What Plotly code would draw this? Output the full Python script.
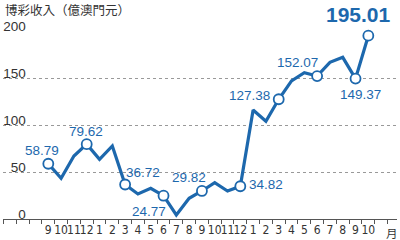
import plotly.graph_objects as go

months = ["9", "10", "11", "12", "1", "2", "3", "4", "5", "6", "7", "8", "9",
          "10", "11", "12", "1", "2", "3", "4", "5", "6", "7", "8", "9", "10"]
revenue = [58.79, 43.3, 67.0, 79.62, 63.5, 77.7, 36.72, 26.6, 32.6, 24.77,
           4.3, 22.0, 29.82, 38.6, 29.8, 34.82, 116.0, 104.0, 127.38, 147.0,
           155.6, 152.07, 166.7, 172.0, 149.37, 195.01]
marked = [0, 3, 6, 9, 12, 15, 18, 21, 24, 25]
label_pos = {0: (-6, 13), 3: (-1, 13), 6: (18, 12), 9: (-15, -16),
             12: (-13, 13), 15: (26, 2), 18: (-29, 4), 21: (-20, 14),
             24: (5, -16), 25: (-10, 21)}
y_ticks = [0, 50, 100, 150, 200]
unit_title = "博彩收入（億澳門元）"
month_unit = "月"

BLUE = "#1d68ad"
idx = list(range(len(months)))

fig = go.Figure()
fig.add_trace(go.Scatter(
    x=idx, y=revenue, mode="lines",
    line=dict(color=BLUE, width=3.2), hoverinfo="skip", cliponaxis=False))
fig.add_trace(go.Scatter(
    x=[idx[i] for i in marked], y=[revenue[i] for i in marked], mode="markers",
    marker=dict(size=10, color="white", line=dict(color=BLUE, width=1.8)),
    hoverinfo="skip", cliponaxis=False))
fig.add_trace(go.Scatter(x=[0], y=[0], yaxis="y2", mode="markers",
                         marker=dict(opacity=0), hoverinfo="skip", showlegend=False))

for i in marked:
    dx, dy = label_pos[i]
    last = i == len(months) - 1
    txt = f"{revenue[i]:.2f}"
    fig.add_annotation(
        x=idx[i], y=revenue[i], text=f"<b>{txt}</b>" if last else txt, showarrow=False,
        xshift=dx, yshift=dy,
        font=dict(family="Liberation Sans, Arial, sans-serif",
                  size=21 if last else 13.5, color=BLUE),
        xanchor="center", yanchor="middle")

fig.add_annotation(x=0, y=1, xref="paper", yref="paper", xanchor="left", yanchor="middle",
                   yshift=22, text=unit_title, showarrow=False,
                   font=dict(family="Noto Sans CJK TC, sans-serif", size=12.5, color="#333333"))
fig.add_annotation(x=0.988, y=0, xref="paper", yref="paper", xanchor="center", yanchor="top",
                   yshift=-4, text=month_unit, showarrow=False,
                   font=dict(family="Noto Sans CJK TC, sans-serif", size=11.5, color="#333333"))

fig.update_layout(
    width=400, height=240,
    margin=dict(l=3, r=3, t=31, b=21),
    paper_bgcolor="white", plot_bgcolor="white",
    showlegend=False,
    xaxis=dict(range=[-3.54, 27.24], tickvals=idx, ticktext=months,
               tickangle=0, automargin=False,
               showgrid=False, zeroline=False,
               showline=True, linecolor="#555555", linewidth=1,
               ticks="", ticklen=0,
               tickfont=dict(family="Liberation Sans Narrow, DejaVu Sans Condensed, sans-serif",
                             size=12, color="#333333"),
               minor=dict(tickmode="linear", tick0=-0.5, dtick=1, ticks="outside",
                          ticklen=4, tickcolor="#555555", showgrid=False),
               fixedrange=True),
    yaxis=dict(range=[0, 200], tickvals=[50, 100, 150, 200], showticklabels=False,
               automargin=False,
               showgrid=True, gridcolor="#999999", griddash="dot", gridwidth=1,
               zeroline=False, showline=False, ticks="", fixedrange=True),
    yaxis2=dict(range=[0, 200], overlaying="y", anchor="free", position=0.058, side="left",
                automargin=False,
                tickvals=y_ticks, showgrid=False, zeroline=False, showline=False, ticks="",
                ticklabelshift=-5, ticklabelstandoff=0,
                tickfont=dict(family="Liberation Sans, Arial, sans-serif", size=13.5, color="#333333"),
                fixedrange=True),
)

fig.write_html("out.html")
